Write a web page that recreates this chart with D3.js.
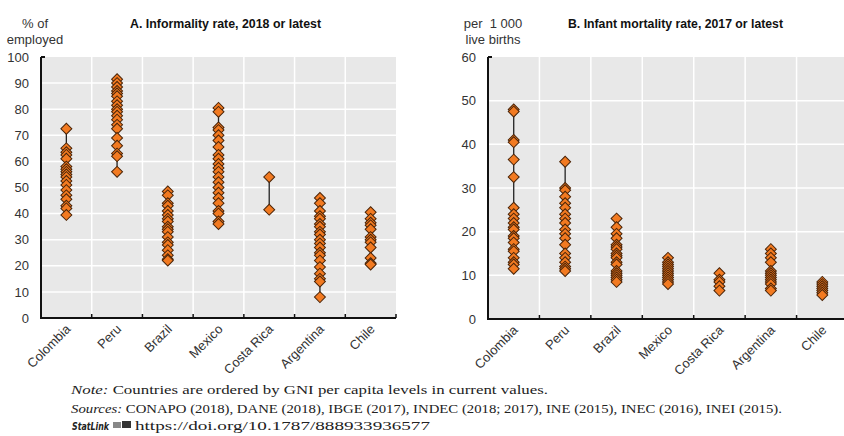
<!DOCTYPE html>
<html><head><meta charset="utf-8">
<script src="https://cdn.jsdelivr.net/npm/d3@7"></script>
<style>
body{margin:0;background:#fff;}
svg{display:block;}
</style></head>
<body>
<svg id="c" width="844" height="436"></svg>
<script>
const categories = ["Colombia","Peru","Brazil","Mexico","Costa Rica","Argentina","Chile"];

// Panel A: informality rate (% of employed), one array per country
const informalityColombia = [72.5,65,63.5,62.5,61,58,57,56,55,54,52.5,51,49,47,45.5,43,42,39.5];
const informalityPeru = [91.5,90,88.5,87,86,85,83,81.5,80,79,77.5,76,74,72.5,69,66,63,62,56];
const informalityBrazil = [48.5,47,44,43,41,39.5,38,37,35,34,33,31,29,28,26,24,22.5,22];
const informalityMexico = [80.5,79,73,72,70,68,65.5,62.5,61,59,57.5,56,54,52,50,48,46,44,41,40,37,36];
const informalityCostaRica = [54,41.5];
const informalityArgentina = [46,44,41,39,38,36,35,33,32,30,28.5,27,25,24,22,19.5,17,15,14,8];
const informalityChile = [40.5,38,36.5,35.5,34,31,30,29,27,23,21,20.5];

// Panel B: infant mortality rate (per 1 000 live births)
const mortalityColombia = [48,47.5,41,40.5,36.5,32.5,25.5,24,23,22,21,20.5,19,18.5,17.5,16,15.5,14,13,12.5,11.5];
const mortalityPeru = [36,30,29.5,28,26.5,25.5,24,23,22,20.5,19.5,18.5,17,15,14,13,12,11.5,11];
const mortalityBrazil = [23,21,19.5,18.5,17,16.5,16,15,14.5,14,13,12.5,11,10.5,10,9.5,9,8.5];
const mortalityMexico = [14,13,12.5,12,11.5,11,10.5,10,9.5,9,8.5,8];
const mortalityCostaRica = [10.5,9,8.5,7.5,6.5];
const mortalityArgentina = [16,15,14,13,11,10.5,10,9.5,9,8.5,8,7,6.5];
const mortalityChile = [8.5,8,7.5,7,6.5,6,5.5];

const ticksA = [0,10,20,30,40,50,60,70,80,90,100];
const ticksB = [0,10,20,30,40,50,60];

const seriesA = [informalityColombia,informalityPeru,informalityBrazil,informalityMexico,informalityCostaRica,informalityArgentina,informalityChile];
const seriesB = [mortalityColombia,mortalityPeru,mortalityBrazil,mortalityMexico,mortalityCostaRica,mortalityArgentina,mortalityChile];

const svg = d3.select("#c");
const SANS = '"Liberation Sans",Arial,sans-serif';
const SERIF = '"Liberation Serif","DejaVu Serif",serif';

function panel(cfg){
  const x = d3.scaleBand().domain(categories).range([cfg.x0, cfg.x1]).padding(0);
  const y = d3.scaleLinear().domain([0, cfg.max]).range([cfg.yBottom, cfg.yTop]);
  const g = svg.append("g");
  g.append("rect").attr("x",cfg.x0).attr("y",cfg.yTop).attr("width",cfg.x1-cfg.x0).attr("height",cfg.yBottom-cfg.yTop).attr("fill","#e8e8e8");
  g.selectAll(".hg").data(cfg.ticks.filter(t=>t>0&&t<cfg.max)).enter().append("line")
    .attr("x1",cfg.x0).attr("x2",cfg.x1).attr("y1",d=>y(d)).attr("y2",d=>y(d))
    .attr("stroke","#fff").attr("stroke-width",1.5);
  const bounds = categories.slice(1).map(c=>x(c));
  g.selectAll(".vg").data(bounds).enter().append("line")
    .attr("x1",d=>d).attr("x2",d=>d).attr("y1",cfg.yTop).attr("y2",cfg.yBottom)
    .attr("stroke","#fff").attr("stroke-width",1.5);
  const ya = g.append("g").attr("transform",`translate(${cfg.x0},0)`)
    .call(d3.axisLeft(y).tickValues(cfg.ticks).tickSize(0).tickPadding(12));
  ya.select(".domain").remove();
  ya.selectAll("text").attr("font-size",13).attr("fill","#333").attr("font-family",SANS);
  g.append("line").attr("x1",cfg.x0).attr("x2",cfg.x0).attr("y1",cfg.yTop).attr("y2",cfg.yBottom+1).attr("stroke","#111").attr("stroke-width",2);
  g.append("line").attr("x1",cfg.x0).attr("x2",cfg.x0+4).attr("y1",cfg.yTop).attr("y2",cfg.yTop).attr("stroke","#111").attr("stroke-width",2);
  const xa = g.append("g").attr("transform",`translate(0,${cfg.yBottom})`)
    .call(d3.axisBottom(x).tickSize(0).tickPadding(0));
  xa.select(".domain").remove();
  xa.selectAll("text").attr("font-size",13).attr("fill","#333").attr("font-family",SANS)
    .attr("text-anchor","end").attr("dy",0).attr("y",0)
    .attr("transform","translate(5,12) rotate(-45)");
  g.append("line").attr("x1",cfg.x0-1).attr("x2",cfg.x1).attr("y1",cfg.yBottom).attr("y2",cfg.yBottom).attr("stroke","#111").attr("stroke-width",2);
  g.selectAll(".xt").data(bounds.concat([cfg.x1])).enter().append("line")
    .attr("x1",d=>d).attr("x2",d=>d).attr("y1",cfg.yBottom).attr("y2",cfg.yBottom-4)
    .attr("stroke","#111").attr("stroke-width",1.5);
  const sym = d3.symbol().type(d3.symbolSquare).size(60);
  cfg.series.forEach((vals,i)=>{
    const cx = x(categories[i]) + x.bandwidth()/2;
    g.append("line").attr("x1",cx).attr("x2",cx).attr("y1",y(d3.max(vals))).attr("y2",y(d3.min(vals)))
      .attr("stroke","#222").attr("stroke-width",1.3);
    g.selectAll(null).data(vals).enter().append("path")
      .attr("d",sym).attr("transform",d=>`translate(${cx},${y(d)}) rotate(45)`)
      .attr("fill","#f27a21").attr("stroke","#4a2408").attr("stroke-width",1);
  });
  svg.append("text").attr("x",cfg.titleX).attr("y",28)
    .attr("font-family",SANS).attr("font-weight","bold").attr("font-size",13).attr("fill","#111")
    .attr("textLength",cfg.titleW).attr("lengthAdjust","spacingAndGlyphs").text(cfg.title);
  cfg.unit.forEach((u,k)=>{
    svg.append("text").attr("x",cfg.unitX).attr("y",28+k*16).attr("text-anchor","middle")
      .attr("font-family",SANS).attr("font-size",13).attr("fill","#333").text(u);
  });
}

panel({x0:41,x1:396,yTop:57,yBottom:318,max:100,ticks:ticksA,series:seriesA,
  title:"A. Informality rate, 2018 or latest",titleX:130,titleW:191,unit:["% of","employed"],unitX:35});
panel({x0:488,x1:848,yTop:57,yBottom:319,max:60,ticks:ticksB,series:seriesB,
  title:"B. Infant mortality rate, 2017 or latest",titleX:568,titleW:215,unit:["per\u00a0 1\u00a0000","live births"],unitX:493});

const f1 = svg.append("text").attr("x",71).attr("y",394).attr("font-family",SERIF).attr("font-size",13.5).attr("fill","#222")
  .attr("textLength",477).attr("lengthAdjust","spacingAndGlyphs");
f1.append("tspan").attr("font-style","italic").text("Note:");
f1.append("tspan").text(" Countries are ordered by GNI per capita levels in current values.");
const f2 = svg.append("text").attr("x",71).attr("y",413).attr("font-family",SERIF).attr("font-size",13.5).attr("fill","#222")
  .attr("textLength",711).attr("lengthAdjust","spacingAndGlyphs");
f2.append("tspan").attr("font-style","italic").text("Sources:");
f2.append("tspan").text(" CONAPO (2018), DANE (2018), IBGE (2017), INDEC (2018; 2017), INE (2015), INEC (2016), INEI (2015).");
svg.append("text").attr("x",72).attr("y",430).attr("font-family",'"DejaVu Sans",sans-serif').attr("font-size",11)
  .attr("font-weight","bold").attr("font-style","italic").attr("fill","#222")
  .attr("textLength",37).attr("lengthAdjust","spacingAndGlyphs").text("StatLink");
svg.append("rect").attr("x",113).attr("y",422).attr("width",8).attr("height",6).attr("fill","#888");
svg.append("rect").attr("x",122).attr("y",421).attr("width",9).attr("height",7).attr("fill","#333");
svg.append("text").attr("x",135).attr("y",430).attr("font-family",SERIF).attr("font-size",13.5).attr("fill","#222")
  .attr("textLength",295).attr("lengthAdjust","spacingAndGlyphs").text("https://doi.org/10.1787/888933936577");
</script>
</body></html>
